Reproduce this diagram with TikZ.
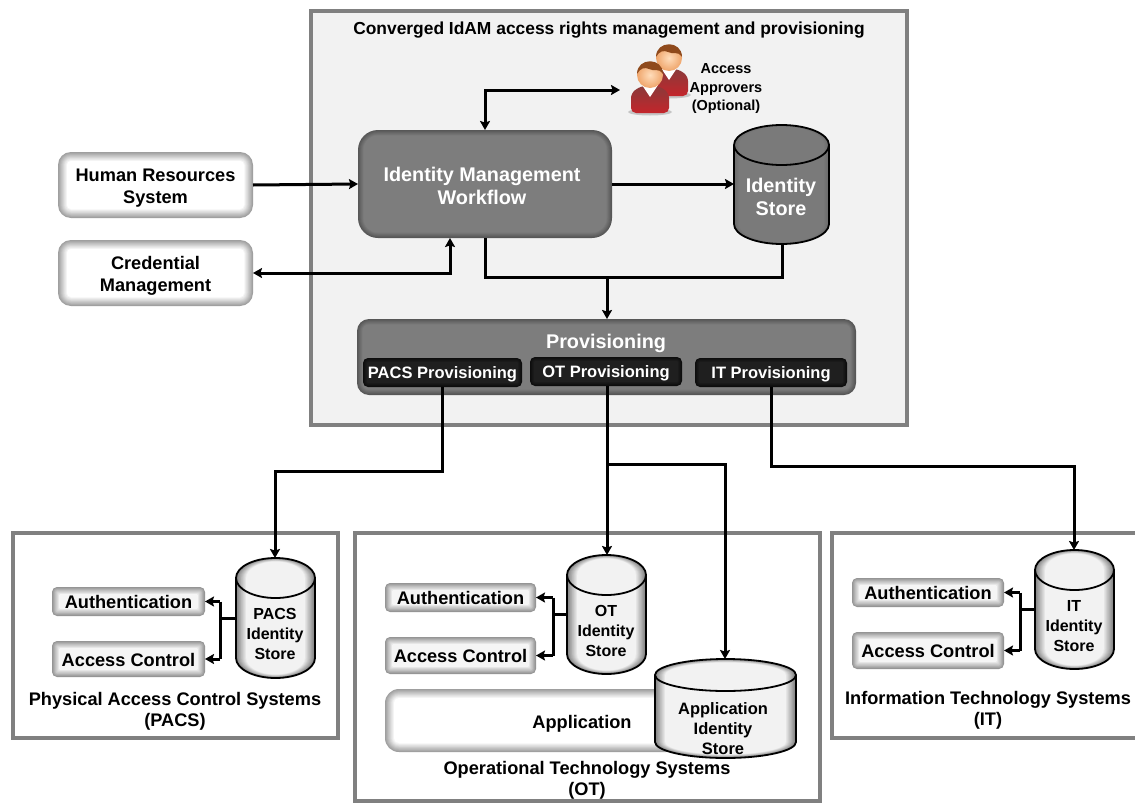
\documentclass[tikz,border=0pt]{standalone}
\usepackage{fontspec}
\setmainfont{Liberation Sans}
\usetikzlibrary{arrows.meta,calc}
\definecolor{framegray}{HTML}{808080}
\definecolor{panelgray}{HTML}{F2F2F2}
\definecolor{shirtred}{HTML}{C4252B}
\definecolor{shirtdark}{HTML}{8A3A3A}
\definecolor{hairbrown}{HTML}{8F4A1C}
\definecolor{skinin}{HTML}{FFDDBB}
\definecolor{skinout}{HTML}{EFA56B}
\newcommand{\fT}{\fontsize{17.4}{20}\selectfont\bfseries}
\newcommand{\fL}{\fontsize{18.2}{22}\selectfont\bfseries}
\newcommand{\fW}{\fontsize{19.8}{23}\selectfont\bfseries}
\newcommand{\fP}{\fontsize{16.5}{20}\selectfont\bfseries}
\newcommand{\fS}{\fontsize{16}{20}\selectfont\bfseries}
\newcommand{\fC}{\fontsize{18.2}{21}\selectfont\bfseries}
\newcommand{\fA}{\fontsize{14.5}{18.5}\selectfont\bfseries}
% skins: edge colour, centre colour, layers, step, text colour, text drop
\newcommand{\skinlight}{\colorlet{softedge}{black!38}\colorlet{softcentre}{white}\def\softn{12}\def\softs{0.75}\def\textc{black}\def\softdy{3}}
\newcommand{\skinsmall}{\colorlet{softedge}{black!42}\colorlet{softcentre}{black!4}\def\softn{9}\def\softs{0.8}\def\textc{black}\def\softdy{0.8}}
\newcommand{\skindark}{\colorlet{softedge}{black!66}\colorlet{softcentre}{black!51}\def\softn{6}\def\softs{0.9}\def\textc{white}\def\softdy{2}}
\newcommand{\skinblack}{\colorlet{softedge}{black!95}\colorlet{softcentre}{black!88}\def\softn{4}\def\softs{1.0}\def\textc{white}\def\softdy{2}}
\newcommand{\skincyl}{\colorlet{softedge}{black!50}\colorlet{softcentre}{black!5}\def\softn{12}\def\softs{0.85}\def\textc{black}\def\softdy{0}}
\newcommand{\skincyldark}{\colorlet{softedge}{black!58}\colorlet{softcentre}{black!52}\def\softn{4}\def\softs{1.2}\def\textc{white}\def\softdy{0}}
% \softbox{name}{x1}{y1}{x2}{y2}{radius}{skin}{text}
\newcommand{\softbox}[8]{%
  \csname skin#7\endcsname
  \foreach \i in {0,...,\softn}{%
    \pgfmathsetmacro{\p}{100*\i/\softn}%
    \pgfmathsetmacro{\ins}{\i*\softs}%
    \pgfmathsetmacro{\rr}{max(#6-\ins,1)}%
    \fill[color={softcentre!\p!softedge},rounded corners=\rr pt]
      ({#2+\ins},{#3+\ins}) rectangle ({#4-\ins},{#5-\ins});
  }
  \pgfmathsetmacro{\ww}{#4-#2}\pgfmathsetmacro{\hh}{#5-#3}
  \node[softlabel,minimum width=\ww pt,minimum height=\hh pt]
    (#1) at ({(#2+#4)/2},{(#3+#5)/2}) {};
  \node[softlabel,text=\textc] (#1label) at ([yshift=-\softdy pt]#1.center) {#8};
}
% \softcyl{name}{x1}{ytop}{x2}{ybot}{ry}{skin}
\newcommand{\softcyl}[7]{%
  \csname skin#7\endcsname
  \foreach \i in {0,...,\softn}{%
    \pgfmathsetmacro{\p}{100*\i/\softn}%
    \pgfmathsetmacro{\ins}{\i*\softs}%
    \pgfmathsetmacro{\rx}{(#4-#2)/2-\ins}%
    \pgfmathsetmacro{\ryy}{#6-\ins*0.35}%
    \fill[color={softcentre!\p!softedge}]
      ({#2+\ins},{#3+#6}) arc[start angle=180,end angle=0,x radius=\rx pt,y radius=\ryy pt]
      -- ({#4-\ins},{#5-#6}) arc[start angle=0,end angle=-180,x radius=\rx pt,y radius=\ryy pt] -- cycle;
  }
  \pgfmathsetmacro{\rx}{(#4-#2)/2}%
  \pgfmathsetmacro{\ww}{#4-#2}\pgfmathsetmacro{\hh}{#5-#3}
  \draw[cylline]
      (#2,{#3+#6}) arc[start angle=180,end angle=0,x radius=\rx pt,y radius=#6 pt]
      -- (#4,{#5-#6}) arc[start angle=0,end angle=-180,x radius=\rx pt,y radius=#6 pt] -- cycle;
  \draw[cylline]
      (#2,{#3+#6}) arc[start angle=180,end angle=360,x radius=\rx pt,y radius=#6 pt];
  \node[softlabel,minimum width=\ww pt,minimum height=\hh pt]
    (#1) at ({(#2+#4)/2},{(#3+#5)/2}) {};
}
% \person{head x}{head y}
\newcommand{\person}[2]{%
  \fill[black!30,opacity=.7] (#1,{#2+37}) ellipse [x radius=22pt,y radius=3.5pt];
  \shade[top color=shirtdark,bottom color=shirtred,rounded corners=5pt]
    ({#1-19},{#2+38}) -- ({#1-19},{#2+18}) -- ({#1-9},{#2+11}) -- ({#1+9},{#2+11})
    -- ({#1+19},{#2+18}) -- ({#1+19},{#2+38}) -- cycle;
  \fill[white] ({#1-8},{#2+10}) -- ({#1+8},{#2+10}) -- (#1,{#2+22}) -- cycle;
  \shade[inner color=skinin,outer color=skinout] (#1,#2) circle [radius=13pt];
  \fill[hairbrown] ({#1-13},{#2-1}) .. controls ({#1-13},{#2-18}) and ({#1+13},{#2-18}) .. ({#1+13},{#2-1})
    .. controls ({#1+8},{#2-8}) and ({#1+4},{#2-3}) .. ({#1-1},{#2-6})
    .. controls ({#1-5},{#2-8}) and ({#1-10},{#2-7}) .. ({#1-13},{#2-1}) -- cycle;
}
\tikzset{
  x=1pt,y=-1pt,
  softlabel/.style={inner sep=0pt,outer sep=0pt,align=center,font=\fL},
  cylline/.style={draw=black,line width=1.8pt},
  framebox/.style={draw=framegray,line width=4.5pt},
  link/.style={draw=black,line width=3pt,line join=miter},
  tip/.style={-{Stealth[length=9pt,width=10pt,inset=1.5pt]}},
  tiptwo/.style={{Stealth[length=9pt,width=10pt,inset=1.5pt]}-{Stealth[length=9pt,width=10pt,inset=1.5pt]}},
  caption/.style={inner sep=0pt,align=center},
}
\begin{document}
\begin{tikzpicture}
\path[use as bounding box] (0,0) rectangle (1135,803);
\clip (0,0) rectangle (1135,803);
\fill[white] (0,0) rectangle (1135,803);

% frames
\draw[framebox,fill=panelgray] (311,11) rectangle (907,425);
\draw[framebox,fill=white] (13,533) rectangle (338,738);
\draw[framebox,fill=white] (355,533) rectangle (820,801);
\draw[framebox,fill=white] (832,533) rectangle (1140,738);

\node[caption,font=\fT] (title) at (609,30.5) {Converged IdAM access rights management and provisioning};

% people
\person{669}{58}
\person{650}{75}
\node[caption,font=\fA] (approvers) at (726,89) {Access\\Approvers\\(Optional)};

% left boxes
\softbox{hr}{58}{152}{253}{218}{13}{light}{Human Resources\\System}
\softbox{cred}{58}{240}{253}{306}{13}{light}{Credential\\Management}

% core
\softbox{wf}{358}{130}{612}{238}{20}{dark}{}
\node[caption,font=\fW,text=white] (wftext) at (482,186) {Identity Management\\Workflow};
\softcyl{store}{734}{125}{829}{244}{20}{cyldark}
\node[caption,font=\fW,text=white] (storelabel) at (781,197) {Identity\\Store};

\softbox{prov}{357}{319}{856}{395}{12}{dark}{}
\node[caption,font=\fW,text=white] (provlabel) at (606,343) {Provisioning};
\softbox{ppacs}{363}{358}{522}{387}{5}{black}{\fP PACS Provisioning}
\softbox{pot}{530}{357}{682}{386}{5}{black}{\fP OT Provisioning}
\softbox{pit}{695}{358}{847}{387}{5}{black}{\fP IT Provisioning}

% PACS system
\softbox{pauth}{52}{587}{205}{616}{5}{small}{\fL Authentication}
\softbox{pacc}{52}{641}{205}{677}{5}{small}{\fL Access Control}
\softcyl{pstore}{236}{558}{315}{678}{20}{cyl}
\node[caption,font=\fS] (pstorelabel) at (275,634) {PACS\\Identity\\Store};
\node[caption,font=\fC] (pcap) at (175,711) {Physical Access Control Systems\\(PACS)};

% OT system
\softbox{oauth}{385}{583}{536}{612}{5}{small}{\fL Authentication}
\softbox{oacc}{385}{637}{536}{674}{5}{small}{\fL Access Control}
\softcyl{ostore}{567}{555}{646}{674}{20}{cyl}
\node[caption,font=\fS] (ostorelabel) at (606,631) {OT\\Identity\\Store};
\softbox{oapp}{385}{689}{680}{752}{14}{light}{}
\node[caption,font=\fC] (oapplabel) at (582,724) {Application};
\softcyl{astore}{655}{659}{796}{758}{16}{cyl}
\node[caption,font=\fP] (astorelabel) at (723,729) {Application\\Identity\\Store};
\node[caption,font=\fC] (ocap) at (587,780) {Operational Technology Systems\\(OT)};

% IT system
\softbox{iauth}{852}{578}{1004}{607}{5}{small}{\fL Authentication}
\softbox{iacc}{852}{632}{1004}{669}{5}{small}{\fL Access Control}
\softcyl{istore}{1035}{550}{1114}{669}{20}{cyl}
\node[caption,font=\fS] (istorelabel) at (1074,626) {IT\\Identity\\Store};
\node[caption,font=\fC] (icap) at (988,710) {Information Technology Systems\\(IT)};

% bends
\coordinate (apprtip) at (620,90);
\coordinate (wfup) at (485,90);
\coordinate (credbend) at (450,273);
\coordinate (merge) at (607,277);
\coordinate (mergeleft) at (485,277);
\coordinate (mergeright) at (782,277);
\coordinate (pbusy) at (442,471);
\coordinate (pbusx) at (275,471);
\coordinate (otsplit) at (607,464);
\coordinate (appx) at (725,464);
\coordinate (itbusy) at (771,466);
\coordinate (itbusx) at (1074,466);
\coordinate (obus) at (553,614);
\coordinate (pbus) at (220,618);
\coordinate (ibus) at (1020,609);

% connectors
\draw[link,tip] (hr.east) -- (wf.west);
\draw[link,tiptwo] (cred.east) -- (credbend) -- (credbend |- wf.south);
\draw[link,tiptwo] (wf.north -| wfup) -- (wfup) -- (apprtip);
\draw[link,tip] (wf.east) -- (store.west |- wf.east);
\draw[link] (wf.south -| mergeleft) -- (mergeleft) -- (mergeright) -- (mergeright |- store.south);
\draw[link,tip] (merge) -- (merge |- prov.north);
\draw[link,tip] (ppacs.south -| pbusy) -- (pbusy) -- (pbusx) -- (pbusx |- pstore.north);
\draw[link,tip] (pot.south -| otsplit) -- (otsplit) -- (otsplit |- ostore.north);
\draw[link,tip] (otsplit) -- (appx) -- (appx |- astore.north);
\draw[link,tip] (pit.south -| itbusy) -- (itbusy) -- (itbusx) -- (itbusx |- istore.north);

\draw[link] (pstore.west |- pbus) -- (pbus);
\draw[link,tip] (pbus |- pauth.east) -- (pauth.east);
\draw[link,tip] (pbus |- pacc.east) -- (pacc.east);
\draw[link] (pbus |- pauth.east) -- (pbus |- pacc.east);

\draw[link] (ostore.west |- obus) -- (obus);
\draw[link,tip] (obus |- oauth.east) -- (oauth.east);
\draw[link,tip] (obus |- oacc.east) -- (oacc.east);
\draw[link] (obus |- oauth.east) -- (obus |- oacc.east);

\draw[link] (istore.west |- ibus) -- (ibus);
\draw[link,tip] (ibus |- iauth.east) -- (iauth.east);
\draw[link,tip] (ibus |- iacc.east) -- (iacc.east);
\draw[link] (ibus |- iauth.east) -- (ibus |- iacc.east);
\end{tikzpicture}
\end{document}
